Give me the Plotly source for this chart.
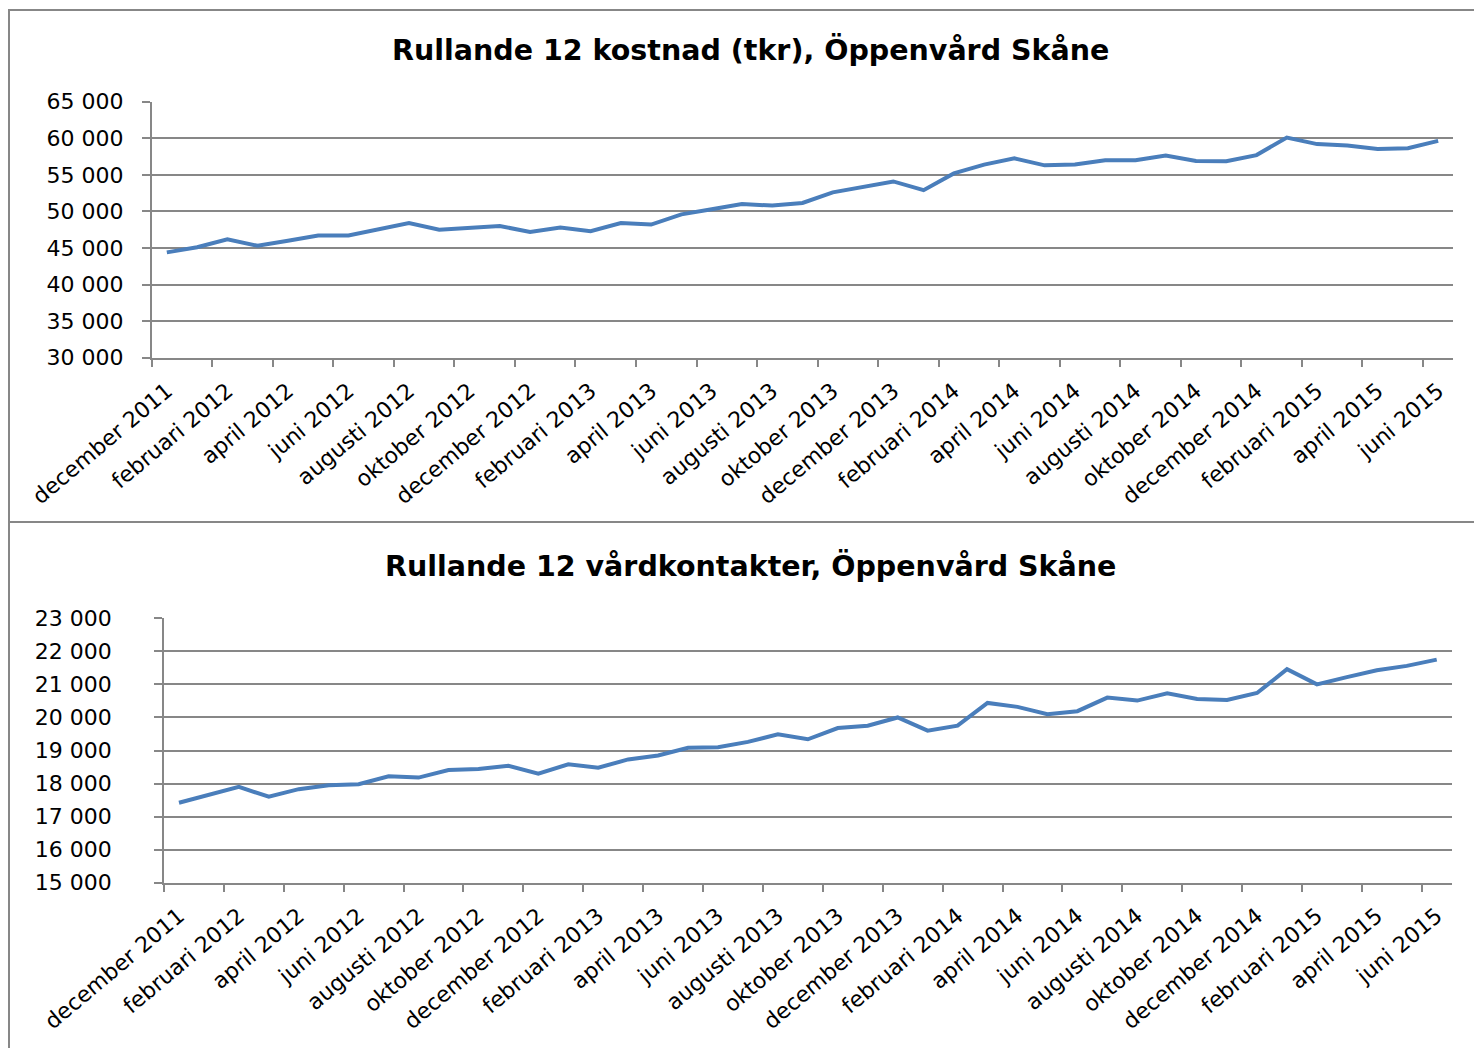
import plotly.graph_objects as go

W, H = 1474, 1048

month_names = ["januari", "februari", "mars", "april", "maj", "juni", "juli",
               "augusti", "september", "oktober", "november", "december"]
categories = ["december 2011"] + [f"{m} {y}" for y in [2012, 2013, 2014] for m in month_names] \
    + [f"{m} 2015" for m in month_names[:6]]

kostnad = [44400, 45100, 46200, 45300, 46000, 46700, 46700, 47500, 48400, 47500,
           47800, 48000, 47200, 47800, 47300, 48400, 48200, 49600, 50300, 51000,
           50800, 51150, 52600, 53400, 54100, 52900, 55200, 56400, 57250, 56300,
           56400, 57000, 57000, 57650, 56900, 56850, 57700, 60100, 59200, 59000,
           58550, 58650, 59650]

vardkontakter = [17420, 17650, 17900, 17600, 17830, 17950, 17980, 18220, 18180, 18410,
                 18440, 18540, 18300, 18580, 18480, 18730, 18850, 19080, 19100, 19260,
                 19490, 19340, 19680, 19750, 20000, 19600, 19750, 20440, 20320, 20100,
                 20190, 20600, 20510, 20730, 20560, 20530, 20740, 21460, 21000, 21220,
                 21430, 21560, 21750]

title_top = "Rullande 12 kostnad (tkr), Öppenvård Skåne"
title_bottom = "Rullande 12 vårdkontakter, Öppenvård Skåne"

n = len(categories)
idx = list(range(n))
label_idx = idx[::2]
label_text = [categories[i] for i in label_idx]
boundary_ticks = [i - 0.5 for i in idx[::2]]

LINE = "#4a7ebb"
GRID = "#878787"
TICKFONT = dict(family="DejaVu Sans", size=22, color="#000000")


def px_x(p):
    return p / W


def px_y(p):
    return 1 - p / H


fig = go.Figure()
fig.add_trace(go.Scatter(x=idx, y=kostnad, mode="lines", xaxis="x", yaxis="y",
                         line=dict(color=LINE, width=4), showlegend=False,
                         hoverinfo="skip"))
fig.add_trace(go.Scatter(x=idx, y=vardkontakter, mode="lines", xaxis="x2", yaxis="y2",
                         line=dict(color=LINE, width=4), showlegend=False,
                         hoverinfo="skip"))

xr = [-0.5, n - 0.5]


def x_axis(domain, anchor, standoff):
    return dict(domain=domain, anchor=anchor, range=xr, tickmode="array",
                tickvals=label_idx, ticktext=label_text, tickangle=-40,
                ticks="", showticklabels=True, tickfont=TICKFONT,
                ticklabelstandoff=standoff,
                minor=dict(tickmode="array", tickvals=boundary_ticks, ticks="outside",
                           ticklen=8, tickwidth=1.5, tickcolor=GRID, showgrid=False),
                showline=True, linecolor=GRID, linewidth=1.5, showgrid=False,
                zeroline=False, automargin=False, fixedrange=True)


def y_axis(domain, anchor, rng, dtick, standoff):
    return dict(domain=domain, anchor=anchor, range=rng, dtick=dtick, tick0=rng[0],
                tickformat=",d", showgrid=True, gridcolor=GRID, gridwidth=1.5,
                showline=True, linecolor=GRID, linewidth=1.5, ticks="outside",
                ticklen=8, tickwidth=1.5, tickcolor=GRID, zeroline=False,
                tickfont=TICKFONT, ticklabelstandoff=standoff, automargin=False,
                fixedrange=True)


top_x = [px_x(151.7), px_x(1453.3)]
top_y = [px_y(357.7), px_y(101.7)]
bot_x = [px_x(164.0), px_x(1451.7)]
bot_y = [px_y(882.7), px_y(618.3)]

fig.update_layout(
    template="none",
    width=W, height=H, autosize=False,
    margin=dict(l=0, r=0, t=0, b=0, pad=0),
    paper_bgcolor="white", plot_bgcolor="white",
    separators=", ",
    xaxis=x_axis(top_x, "y", 10),
    yaxis=y_axis(top_y, "x", [30000, 65000], 5000, 14),
    xaxis2=x_axis(bot_x, "y2", 10),
    yaxis2=y_axis(bot_y, "x2", [15000, 23000], 1000, 38),
    shapes=[
        dict(type="rect", xref="paper", yref="paper", x0=px_x(9), x1=px_x(1490),
             y0=px_y(522), y1=px_y(10), line=dict(color=GRID, width=2)),
        dict(type="rect", xref="paper", yref="paper", x0=px_x(9), x1=px_x(1490),
             y0=px_y(1070), y1=px_y(522), line=dict(color=GRID, width=2)),
    ],
    annotations=[
        dict(text=f"<b>{title_top}</b>", xref="paper", yref="paper",
             x=px_x(750), y=px_y(50), xanchor="center", yanchor="middle",
             showarrow=False, font=dict(family="DejaVu Sans", size=28.5, color="#000")),
        dict(text=f"<b>{title_bottom}</b>", xref="paper", yref="paper",
             x=px_x(750), y=px_y(566), xanchor="center", yanchor="middle",
             showarrow=False, font=dict(family="DejaVu Sans", size=28.5, color="#000")),
    ],
)

fig.write_html("out.html", include_plotlyjs=True,
               config={"displayModeBar": False},
               post_script="document.body.style.margin='0';document.body.style.overflow='hidden';")
